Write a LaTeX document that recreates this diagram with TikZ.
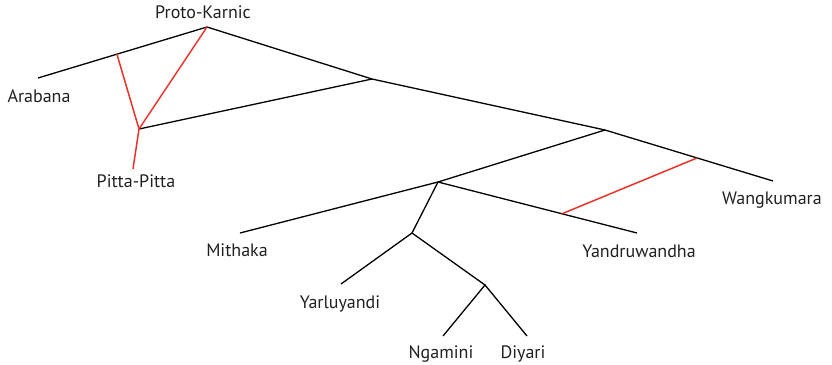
\documentclass[tikz,border=0pt]{standalone}
\usepackage{fontspec}
\setmainfont{PT Sans}
\usetikzlibrary{calc}
\definecolor{txt}{HTML}{231F20}
\definecolor{redline}{RGB}{232,52,40}
\tikzset{
  branch/.style={draw=black, line width=1.3pt},
  redbranch/.style={draw=redline, line width=1.5pt},
  lbl/.style={text=txt, font=\fontsize{18}{20}\selectfont, inner sep=0pt, anchor=base}
}
\begin{document}
\begin{tikzpicture}[x=1pt,y=-1pt]
\useasboundingbox (0,0) rectangle (832,364);
% tree points
\coordinate (root) at (207,27);
\coordinate (arab) at (38,78);
\coordinate (pn) at (139,129);
\coordinate (pe) at (133,169);
\coordinate (A) at (372,79);
\coordinate (B) at (605,130);
\coordinate (wang) at (773,181);
\coordinate (C) at (438,182);
\coordinate (yand) at (637,233);
\coordinate (mith) at (240,233);
\coordinate (D) at (412,233);
\coordinate (yarl) at (341,284);
\coordinate (E) at (485,285);
\coordinate (ngam) at (443,336);
\coordinate (diya) at (527,336);
\coordinate (a1) at ($(root)!0.533!(arab)$);
\coordinate (w1) at ($(B)!0.548!(wang)$);
\coordinate (y1) at ($(C)!0.623!(yand)$);
% labels
\node[lbl] (lroot) at (203,18) {Proto-Karnic};
\node[lbl] (larab) at (39,102) {Arabana};
\node[lbl] (lpitta) at (136,187) {Pitta-Pitta};
\node[lbl] (lwang) at (772,204) {Wangkumara};
\node[lbl] (lyand) at (639,257) {Yandruwandha};
\node[lbl] (lmith) at (237,256) {Mithaka};
\node[lbl] (lyarl) at (340,308) {Yarluyandi};
\node[lbl] (lngam) at (441,358) {Ngamini};
\node[lbl] (ldiya) at (523,358) {Diyari};
% black branches
\draw[branch] (arab) -- (root) -- (A) -- (B) -- (wang);
\draw[branch] (A) -- (pn);
\draw[branch] (B) -- (C);
\draw[branch] (mith) -- (C) -- (yand);
\draw[branch] (C) -- (D) -- (yarl);
\draw[branch] (D) -- (E) -- (ngam);
\draw[branch] (E) -- (diya);
% red branches
\draw[redbranch] (a1) -- (pn);
\draw[redbranch] (root) -- (pn);
\draw[redbranch] (pn) -- (pe);
\draw[redbranch] (y1) -- (w1);
\end{tikzpicture}
\end{document}
